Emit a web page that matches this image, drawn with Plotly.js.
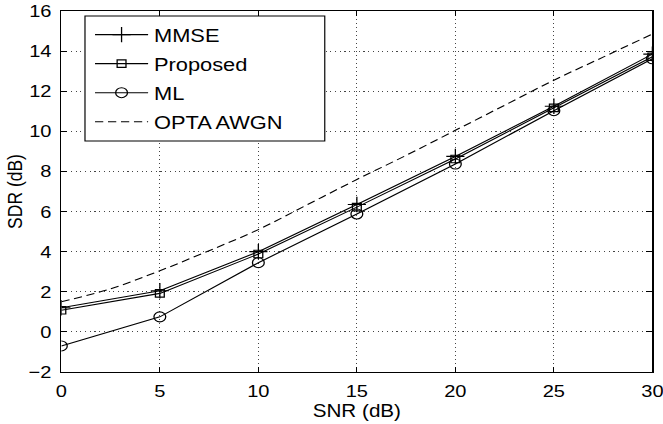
<!DOCTYPE html>
<html>
<head>
<meta charset="utf-8">
<script src="https://cdn.plot.ly/plotly-3.0.1.min.js"></script>
<style>
html,body{margin:0;padding:0;background:#fff;overflow:hidden;}
#wrap{width:663px;height:424px;overflow:hidden;}
#chart{width:566px;height:424px;transform:scaleX(1.1797);transform-origin:0 0;}
</style>
</head>
<body>
<div id="wrap"><div id="chart"></div></div>
<script>
const snr = [0, 5, 10, 15, 20, 25, 30];
const mmse = [1.2, 2.05, 4.0, 6.35, 8.75, 11.25, 13.85];
const proposed = [1.08, 1.92, 3.88, 6.22, 8.62, 11.17, 13.72];
const ml = [-0.7, 0.75, 3.45, 5.88, 8.37, 11.03, 13.62];
const optaSnr = [0, 2.5, 5, 7.5, 10, 12.5, 15, 17.5, 20, 22.5, 25, 27.5, 30];
const opta = [1.5, 2.15, 3.05, 4.05, 5.1, 6.35, 7.6, 8.8, 10.05, 11.3, 12.55, 13.7, 14.85];
const xTicks = [0, 5, 10, 15, 20, 25, 30];
const yTicks = [-2, 0, 2, 4, 6, 8, 10, 12, 14, 16];
const yTickText = ['\u22122', '0', '2', '4', '6', '8', '10', '12', '14', '16'];

const fam = 'Liberation Sans, Arial, Helvetica, sans-serif';
const tickFont = {family: fam, size: 17, color: '#000'};
const titleFont = {family: fam, size: 17.5, color: '#000'};
const legendFont = {family: fam, size: 18.5, color: '#000'};
const lineStyle = {color: '#000', width: 1.1};

const traces = [
  {x: snr, y: mmse, name: 'MMSE', legendgroup: 'g1', mode: 'lines+markers', line: lineStyle,
   marker: {symbol: 'cross-thin-open', size: 11, color: '#000', line: {color: '#000', width: 1.1}}},
  {x: snr, y: proposed, name: 'Proposed', legendgroup: 'g2', mode: 'lines+markers', line: lineStyle,
   marker: {symbol: 'square-open', size: 7.5, color: '#000', line: {color: '#000', width: 1.1}}},
  {x: snr, y: ml, name: 'ML', legendgroup: 'g3', mode: 'lines+markers', line: lineStyle,
   marker: {symbol: 'circle-open', size: 10, color: '#000', line: {color: '#000', width: 1.1}}},
  {x: optaSnr, y: opta, name: 'OPTA AWGN', legendgroup: 'g4', mode: 'lines',
   line: {color: '#000', width: 1.1, dash: '7px,4px', shape: 'spline'}}
];

const axisCommon = {
  showline: true, linecolor: '#000', linewidth: 1, mirror: 'ticks',
  ticks: 'inside', ticklen: 5, tickcolor: '#000', tickwidth: 1,
  showgrid: true, gridcolor: '#444', griddash: '1px,3px', gridwidth: 1,
  zeroline: false, tickfont: tickFont, ticklabeloverflow: 'allow'
};

const layout = {
  width: 566, height: 424,
  margin: {l: 52, r: 12.5, t: 11, b: 52},
  paper_bgcolor: '#fff', plot_bgcolor: '#fff',
  font: titleFont,
  showlegend: true,
  legend: {
    x: 0.047, y: 0.986, xanchor: 'left', yanchor: 'top',
    bgcolor: 'rgba(0,0,0,0)', borderwidth: 0,
    font: legendFont, itemwidth: 45, tracegroupgap: 2
  },
  shapes: [{
    type: 'rect', xref: 'paper', yref: 'paper', layer: 'above',
    x0: 0.040, x1: 0.4457, y0: 0.640, y1: 0.986,
    fillcolor: '#fff', line: {color: '#000', width: 1}
  }],
  xaxis: Object.assign({}, axisCommon, {
    range: [0, 30], tickvals: xTicks, ticktext: xTicks.map(String),
    ticklabelstandoff: 4,
    title: {text: 'SNR (dB)', font: titleFont, standoff: 2}
  }),
  yaxis: Object.assign({}, axisCommon, {
    range: [-2, 16], tickvals: yTicks, ticktext: yTickText,
    ticklabelstandoff: 4,
    title: {text: 'SDR (dB)', font: titleFont, standoff: 0}
  })
};

Plotly.newPlot('chart', traces, layout, {displayModeBar: false, staticPlot: true});
</script>
</body>
</html>
